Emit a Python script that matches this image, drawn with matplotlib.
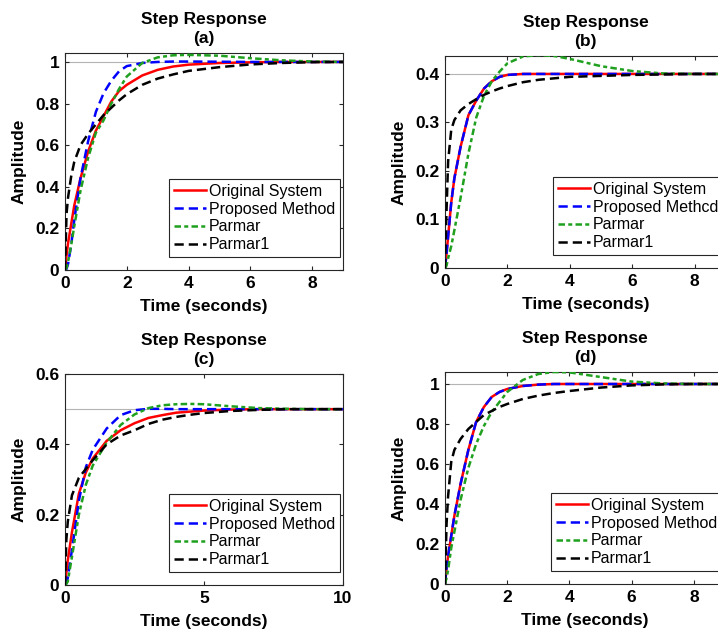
import matplotlib
matplotlib.use('Agg')
import matplotlib.pyplot as plt

plt.rcParams['font.family'] = ['Liberation Sans', 'DejaVu Sans']

# ---- data (time in seconds, amplitude) ----
t_a = [0, 0.05, 0.1, 0.2, 0.3, 0.5, 0.75, 1, 1.25, 1.5, 1.75, 2, 2.5, 3, 3.5, 4, 5, 6, 7, 8, 9]
orig_a = [0, 0.07, 0.13, 0.22, 0.31, 0.44, 0.57, 0.67, 0.74, 0.81, 0.86, 0.89, 0.935, 0.962, 0.978, 0.987, 0.995, 0.998, 1.0, 1.0, 1.0]
prop_a = [0, 0.005, 0.03, 0.12, 0.24, 0.44, 0.62, 0.76, 0.85, 0.91, 0.955, 0.98, 0.995, 1.0, 1.002, 1.002, 1.001, 1.0, 1.0, 1.0, 1.0]
parmar_a = [0, 0.01, 0.04, 0.12, 0.21, 0.38, 0.54, 0.66, 0.72, 0.80, 0.87, 0.93, 0.995, 1.022, 1.032, 1.034, 1.03, 1.018, 1.008, 1.002, 1.0]
parmar1_a = [0, 0.27, 0.35, 0.45, 0.52, 0.60, 0.655, 0.70, 0.745, 0.78, 0.815, 0.845, 0.89, 0.92, 0.94, 0.957, 0.975, 0.988, 0.995, 0.999, 1.0]

t_b = [0, 0.05, 0.1, 0.2, 0.3, 0.5, 0.75, 1, 1.25, 1.5, 1.75, 2, 2.5, 3, 3.5, 4, 5, 6, 7, 8, 9]
orig_b = [0, 0.03, 0.065, 0.135, 0.185, 0.25, 0.315, 0.345, 0.37, 0.385, 0.394, 0.398, 0.4, 0.4, 0.4, 0.4, 0.4, 0.4, 0.4, 0.4, 0.4]
prop_b = [0, 0.03, 0.065, 0.135, 0.185, 0.25, 0.315, 0.345, 0.37, 0.385, 0.394, 0.398, 0.4, 0.4, 0.4, 0.4, 0.4, 0.4, 0.4, 0.4, 0.4]
parmar_b = [0, 0.005, 0.02, 0.045, 0.078, 0.145, 0.236, 0.31, 0.355, 0.385, 0.405, 0.422, 0.436, 0.439, 0.437, 0.431, 0.416, 0.406, 0.401, 0.4, 0.4]
parmar1_b = [0, 0.12, 0.22, 0.285, 0.305, 0.325, 0.338, 0.348, 0.357, 0.364, 0.37, 0.375, 0.383, 0.388, 0.391, 0.394, 0.396, 0.398, 0.399, 0.4, 0.4]

t_c = [0, 0.05, 0.1, 0.25, 0.5, 0.75, 1, 1.5, 2, 2.5, 3, 3.5, 4, 4.5, 5, 6, 7, 8, 9, 10]
orig_c = [0, 0.035, 0.07, 0.15, 0.26, 0.32, 0.36, 0.41, 0.44, 0.46, 0.475, 0.483, 0.49, 0.493, 0.496, 0.499, 0.5, 0.5, 0.5, 0.5]
prop_c = [0, 0.005, 0.02, 0.1, 0.24, 0.335, 0.385, 0.445, 0.483, 0.497, 0.501, 0.501, 0.5, 0.5, 0.5, 0.5, 0.5, 0.5, 0.5, 0.5]
parmar_c = [0, 0.003, 0.01, 0.08, 0.2, 0.285, 0.34, 0.405, 0.455, 0.485, 0.503, 0.511, 0.514, 0.515, 0.514, 0.508, 0.503, 0.501, 0.5, 0.5]
parmar1_c = [0, 0.13, 0.18, 0.255, 0.305, 0.33, 0.355, 0.40, 0.425, 0.44, 0.458, 0.47, 0.478, 0.484, 0.489, 0.495, 0.498, 0.5, 0.5, 0.5]

t_d = [0, 0.05, 0.1, 0.2, 0.3, 0.5, 0.75, 1, 1.25, 1.5, 1.75, 2, 2.5, 3, 3.5, 4, 5, 6, 7, 8, 9]
orig_d = [0, 0.08, 0.14, 0.24, 0.34, 0.5, 0.67, 0.81, 0.885, 0.935, 0.96, 0.975, 0.99, 0.997, 1.0, 1.0, 1.0, 1.0, 1.0, 1.0, 1.0]
prop_d = [0, 0.08, 0.14, 0.24, 0.34, 0.5, 0.67, 0.81, 0.885, 0.935, 0.96, 0.975, 0.99, 0.997, 1.0, 1.0, 1.0, 1.0, 1.0, 1.0, 1.0]
parmar_d = [0, 0.03, 0.07, 0.18, 0.26, 0.42, 0.58, 0.70, 0.79, 0.86, 0.91, 0.96, 1.02, 1.05, 1.06, 1.058, 1.035, 1.012, 1.003, 1.0, 1.0]
parmar1_d = [0, 0.3, 0.44, 0.61, 0.67, 0.725, 0.775, 0.81, 0.845, 0.865, 0.885, 0.9, 0.925, 0.942, 0.955, 0.965, 0.982, 0.993, 0.998, 1.0, 1.0]

labels = ['Original System', 'Proposed Method', 'Parmar', 'Parmar1']
labels_b = ['Original System', 'Proposed Methcd', 'Parmar', 'Parmar1']

W, H = 718, 637
fig = plt.figure(figsize=(W / 100, H / 100), dpi=100)


def px_axes(left, top, right, bottom):
    # axes placed by pixel box of the reference
    return fig.add_axes([left / W, 1 - bottom / H, (right - left) / W, (bottom - top) / H])


def panel(ax, t, ys, final, lbls, tag, xlim, ylim, xticks, yticks, ytl):
    ax.axhline(final, color='#b4b4b4', lw=0.8, zorder=1)
    ax.plot(t, ys[0], color='#ff0000', lw=1.8, ls='-', label=lbls[0], zorder=2)
    ax.plot(t, ys[1], color='#0000ff', lw=1.8, ls=(0, (3.7, 2.0)), label=lbls[1], zorder=3)
    ax.plot(t, ys[2], color='#1fa01f', lw=1.8, ls=(0, (2.6, 1.3, 1.6, 1.3)), label=lbls[2], zorder=4)
    ax.plot(t, ys[3], color='#000000', lw=1.8, ls=(0, (3.7, 2.0)), label=lbls[3], zorder=5)
    ax.set_xlim(xlim)
    ax.set_ylim(ylim)
    ax.set_xticks(xticks)
    ax.set_xticklabels([str(x) for x in xticks])
    ax.set_yticks(yticks)
    ax.set_yticklabels(ytl)
    ax.tick_params(direction='in', top=True, right=True, length=3,
                   labelsize=12.5, color='#262626', pad=4)
    for lab in ax.get_xticklabels() + ax.get_yticklabels():
        lab.set_fontweight('bold')
    for s in ax.spines.values():
        s.set_color('#262626')
        s.set_linewidth(0.8)
    ax.set_title('Step Response\n' + tag, fontsize=12.5, fontweight='bold',
                 linespacing=1.35, pad=7)
    ax.set_xlabel('Time (seconds)', fontsize=12.5, fontweight='bold', labelpad=6)
    ax.set_ylabel('Amplitude', fontsize=12.5, fontweight='bold', labelpad=6)
    bw = ax.get_position().width * W
    bh = ax.get_position().height * H
    leg = ax.legend(loc='lower right', bbox_to_anchor=(1 - 3 / bw, 13 / bh),
                    borderaxespad=0, fontsize=11.5, handlelength=2.0,
                    handletextpad=0.2, labelspacing=0.17, borderpad=0.3,
                    fancybox=False, framealpha=1, edgecolor='#262626')
    leg.get_frame().set_linewidth(0.8)


ax_a = px_axes(65, 53, 343, 270)
panel(ax_a, t_a, [orig_a, prop_a, parmar_a, parmar1_a], 1.0, labels, '(a)',
      (0, 9), (0, 1.043), [0, 2, 4, 6, 8], [0, 0.2, 0.4, 0.6, 0.8, 1],
      ['0', '0.2', '0.4', '0.6', '0.8', '1'])

ax_b = px_axes(445, 56, 726, 268)
panel(ax_b, t_b, [orig_b, prop_b, parmar_b, parmar1_b], 0.4, labels_b, '(b)',
      (0, 9), (0, 0.437), [0, 2, 4, 6, 8], [0, 0.1, 0.2, 0.3, 0.4],
      ['0', '0.1', '0.2', '0.3', '0.4'])

ax_c = px_axes(65, 374, 343, 585)
panel(ax_c, t_c, [orig_c, prop_c, parmar_c, parmar1_c], 0.5, labels, '(c)',
      (0, 10), (0, 0.6), [0, 5, 10], [0, 0.2, 0.4, 0.6],
      ['0', '0.2', '0.4', '0.6'])

ax_d = px_axes(445, 372, 725, 584)
panel(ax_d, t_d, [orig_d, prop_d, parmar_d, parmar1_d], 1.0, labels, '(d)',
      (0, 9), (0, 1.06), [0, 2, 4, 6, 8], [0, 0.2, 0.4, 0.6, 0.8, 1],
      ['0', '0.2', '0.4', '0.6', '0.8', '1'])

plt.savefig('out.png', dpi=100)
